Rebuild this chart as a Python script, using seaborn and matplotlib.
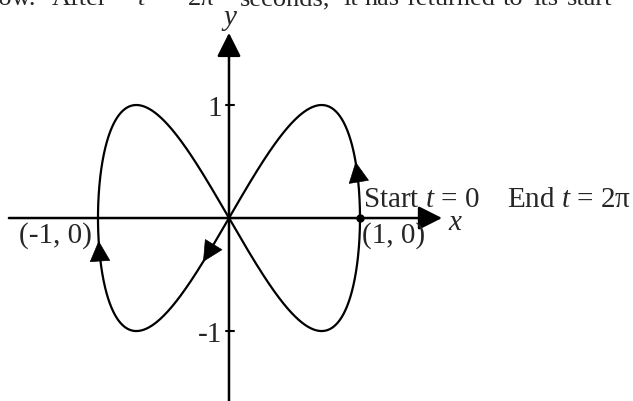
import numpy as np
import pandas as pd
import matplotlib
matplotlib.use("Agg")
import matplotlib.pyplot as plt
import seaborn as sns

# Parametric path: x = cos(x_freq * t), y = sin(y_freq * t), for t from t_start to t_end
t_start = 0.0
t_end = 2 * np.pi
x_freq = 1
y_freq = 2

# Parameter values where direction arrows sit on the path
arrow_t = [0.26, 1.77, 3.04]

# Tick values on the y axis and their labels
y_ticks = [1, -1]
y_tick_labels = ["1", "-1"]

# Labelled points
start_point = (1, 0)
left_point = (-1, 0)

# Justified running-text line above the figure: words and their left edges (x units)
line_words = ["low.", "After", "$t$", "=", "2π", "seconds,", "it", "has",
              "returned", "to", "its", "start"]
line_word_x = [-1.81, -1.351, -0.702, -0.565, -0.313, 0.084, 0.870, 1.038,
               1.366, 2.092, 2.321, 2.580]

sns.set_style("white")
plt.rcParams["font.family"] = ["Liberation Serif", "DejaVu Serif"]
plt.rcParams["mathtext.fontset"] = "custom"
plt.rcParams["mathtext.rm"] = "Liberation Serif"
plt.rcParams["mathtext.it"] = "Liberation Serif:italic"

FS = 21

t = np.linspace(t_start, t_end, 1201)
path = pd.DataFrame({"t": t, "x": np.cos(x_freq * t), "y": np.sin(y_freq * t)})

fig = plt.figure(figsize=(6.33, 4.02), dpi=100)
ax = fig.add_axes([0, 0, 1, 1])
ax.set_xlim(-1.748, 3.084)
ax.set_ylim(-1.619, 1.938)
ax.set_axis_off()

# Coordinate axes with arrow heads
axis_arrow = dict(arrowstyle="-|>,head_length=14.5,head_width=7.3",
                  color="black", lw=1.8, mutation_scale=1,
                  shrinkA=0, shrinkB=0)
ax.annotate("", xy=(1.626, 0), xytext=(-1.68, 0), arrowprops=axis_arrow)
ax.annotate("", xy=(0, 1.638), xytext=(0, -1.7), arrowprops=axis_arrow,
            annotation_clip=False)

# Tick marks on the y axis
for v in y_ticks:
    ax.plot([-0.02, 0.04], [v, v], color="black", lw=1.5)

# The path itself
sns.lineplot(data=path, x="x", y="y", sort=False, estimator=None,
             color="black", lw=1.6, ax=ax)

# Direction arrows along the path
head = dict(arrowstyle="-|>,head_length=14,head_width=7",
            color="black", lw=0.5, mutation_scale=1, shrinkA=0, shrinkB=0)
for ta in arrow_t:
    tip = (np.cos(x_freq * ta), np.sin(y_freq * ta))
    back = (np.cos(x_freq * (ta - 0.02)), np.sin(y_freq * (ta - 0.02)))
    ax.annotate("", xy=tip, xytext=back, arrowprops=head)

# Start point marker
ax.plot([start_point[0]], [start_point[1]], "o", color="black", ms=5)

# Text labels
for v, lab in zip(y_ticks, y_tick_labels):
    ax.text(-0.05, v, lab, ha="right", va="center_baseline", fontsize=FS)

ax.text(0.008, 1.72, "y", ha="center", va="baseline", fontsize=FS, style="italic")
ax.text(1.672, -0.097, "x", ha="left", va="baseline", fontsize=FS, style="italic")
ax.text(left_point[0] - 0.046, -0.212, "(-1, 0)", ha="right", va="baseline", fontsize=FS)
ax.text(start_point[0] + 0.015, -0.212, "(1, 0)", ha="left", va="baseline", fontsize=FS)
ax.text(1.023, 0.109, "Start $t$ = 0", ha="left", va="baseline", fontsize=FS)
ax.text(2.122, 0.109, "End $t$ = 2π", ha="left", va="baseline", fontsize=FS)

for word, wx in zip(line_words, line_word_x):
    ax.text(wx, 1.894, word, ha="left", va="baseline", fontsize=19, clip_on=False)

fig.savefig("out.png", dpi=100)
